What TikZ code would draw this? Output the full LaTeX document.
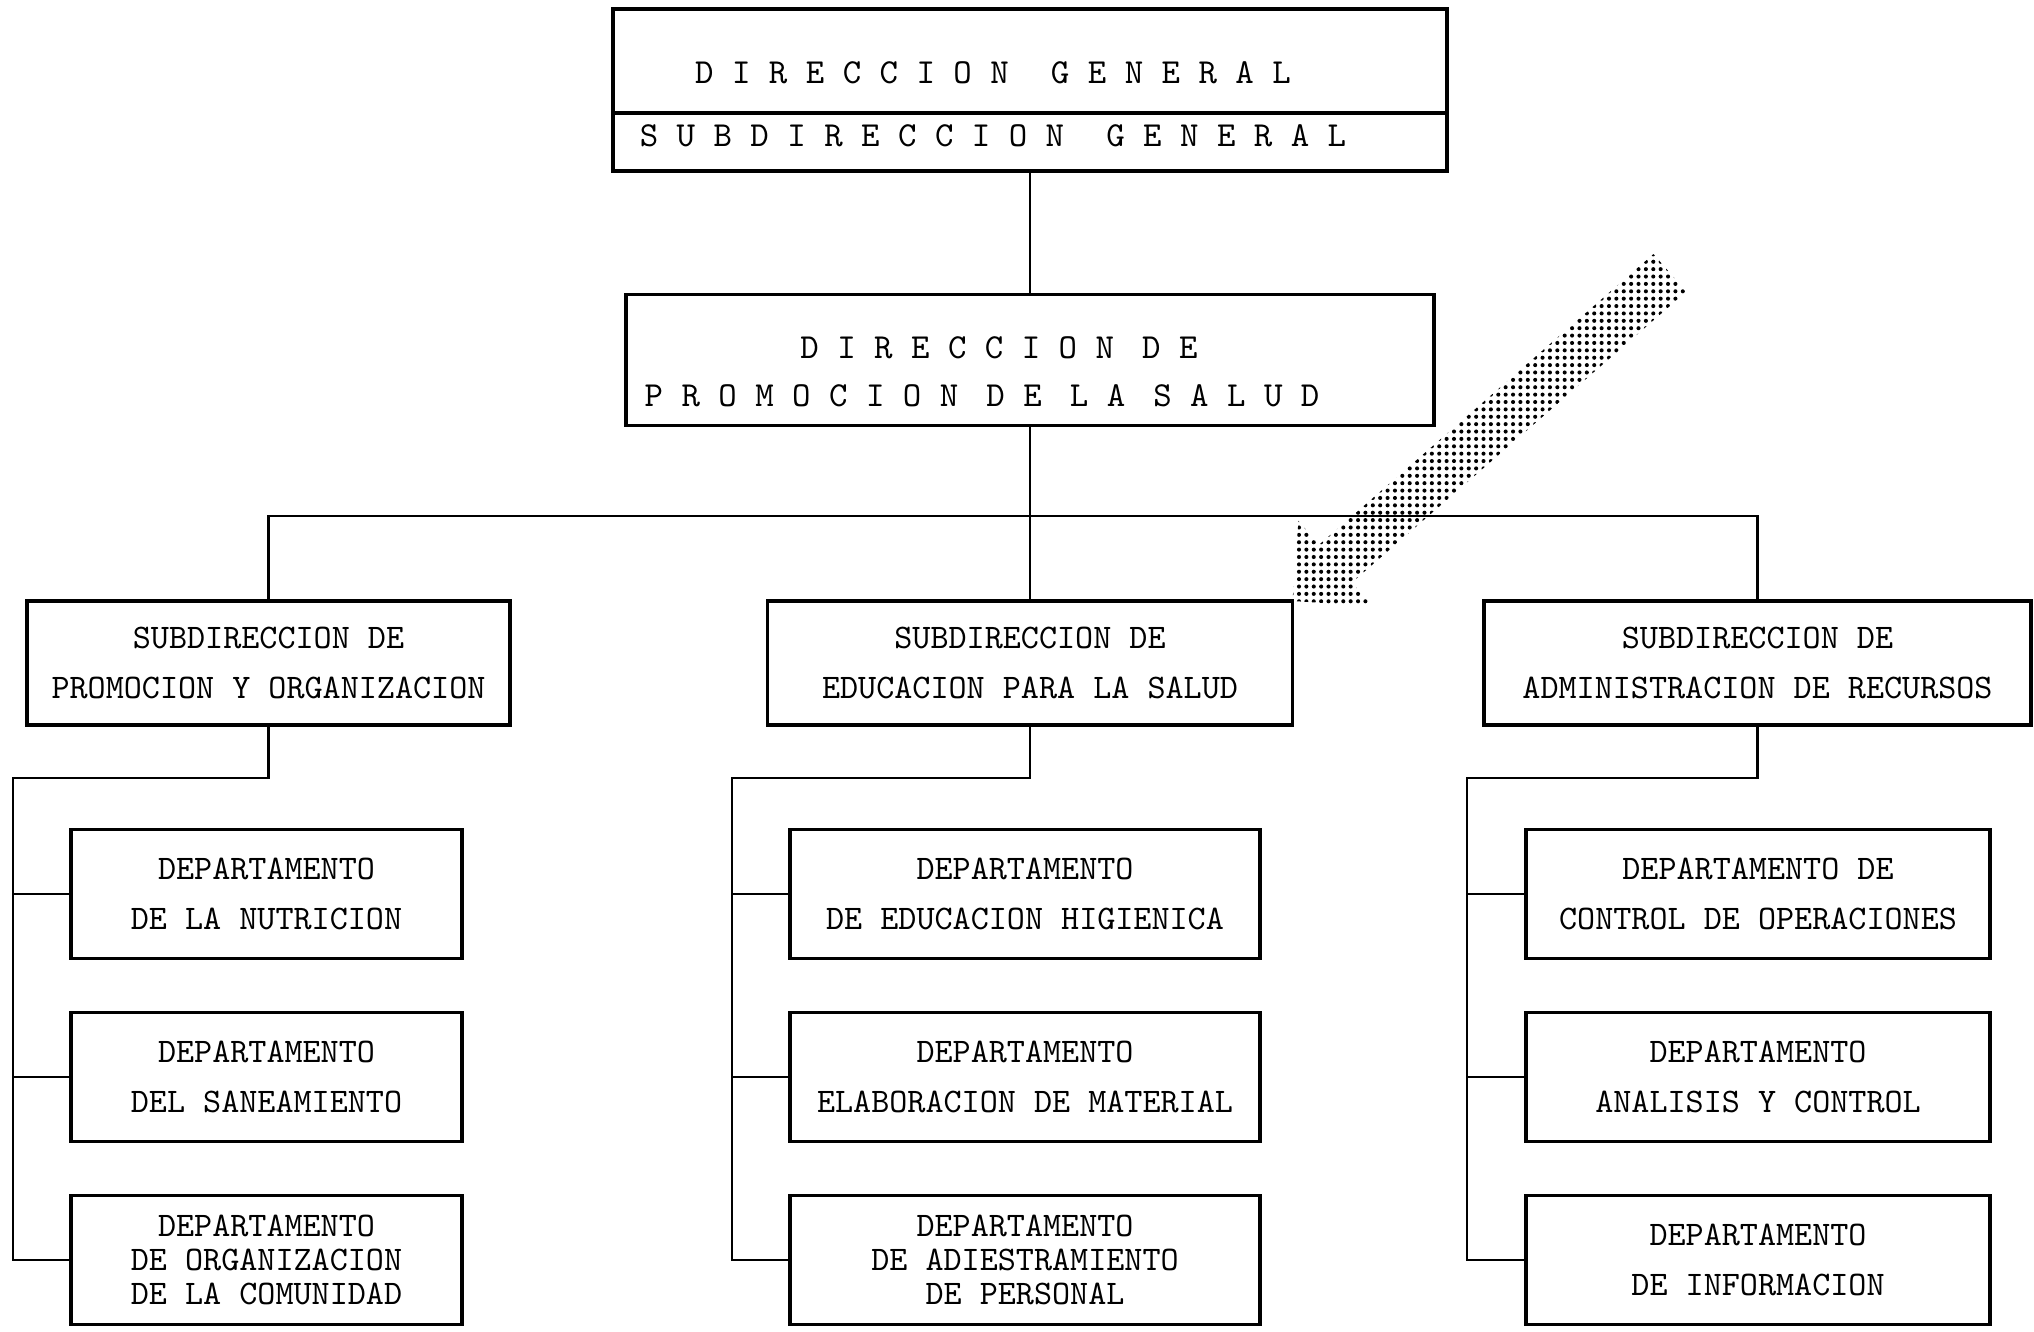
\documentclass[tikz,border=0pt]{standalone}
\usepackage{fontspec}
\usepackage{tikz}
\usetikzlibrary{positioning, patterns}
\pgfdeclarepatternformonly{halftone}{\pgfqpoint{-1pt}{-1pt}}{\pgfqpoint{1pt}{1pt}}{\pgfqpoint{2.1pt}{2.1pt}}%
  {\pgfpathcircle{\pgfqpoint{0pt}{0pt}}{.58pt}\pgfusepath{fill}}
\newcommand{\wg}{\hspace{1.2em}}
\tikzset{
  dir/.style  = {draw, line width=1.1pt, outer sep=0pt, minimum width=8.34cm,
                 font=\fontsize{10}{13.6}\selectfont\ttfamily},
  sub/.style  = {draw, line width=1.1pt, outer sep=0pt, align=center,
                 minimum height=1.24cm, font=\fontsize{9.8}{14}\selectfont\ttfamily},
  dep/.style  = {draw, line width=1.1pt, outer sep=0pt, align=center,
                 minimum height=1.29cm, font=\fontsize{9.8}{14}\selectfont\ttfamily},
  dep3/.style = {dep, font=\fontsize{9.8}{9.7}\selectfont\ttfamily},
  ln/.style   = {line width=0.6pt},
}
\begin{document}
\begin{tikzpicture}
  \useasboundingbox (0,0) rectangle (20.34,-13.32);
  \node[dir, minimum height=1.04cm, text height=.45cm] (dg) at (10.30,-0.61)
    {D I R E C C I O N\wg G E N E R A L\hspace*{.74cm}};
  \node[dir, minimum height=0.58cm, text depth=.12cm, below=0pt of dg] (sdg)
    {S U B D I R E C C I O N\wg G E N E R A L\hspace*{.74cm}};
  \node[dir, minimum width=8.08cm, minimum height=1.31cm, align=center, text height=.94cm] (dps) at (10.30,-3.60)
    {D I R E C C I O N\hspace{.8em}D E\hspace*{.62cm}\\
     P R O M O C I O N\hspace{.8em}D E\hspace{.8em}L A\hspace{.8em}S A L U D\hspace*{.96cm}};

  \node[sub, minimum width=4.83cm] (spo)  at (2.685,-6.63) {SUBDIRECCION DE\\PROMOCION Y ORGANIZACION};
  \node[sub, minimum width=5.25cm] (sedu) at (10.30,-6.63) {SUBDIRECCION DE\\EDUCACION PARA LA SALUD};
  \node[sub, minimum width=5.47cm] (sadm) at (17.575,-6.63) {SUBDIRECCION DE\\ADMINISTRACION DE RECURSOS};

  \node[dep, minimum width=3.91cm] (dnut) at (2.665,-8.94) {DEPARTAMENTO\\DE LA NUTRICION};
  \node[dep, minimum width=3.91cm, below=5.4mm of dnut] (dsan) {DEPARTAMENTO\\DEL SANEAMIENTO};
  \node[dep3, minimum width=3.91cm, below=5.4mm of dsan] (dorg) {DEPARTAMENTO\\DE ORGANIZACION\\DE LA COMUNIDAD};

  \node[dep, minimum width=4.70cm] (dhig) at (10.25,-8.94) {DEPARTAMENTO\\DE EDUCACION HIGIENICA};
  \node[dep, minimum width=4.70cm, below=5.4mm of dhig] (dmat) {DEPARTAMENTO\\ELABORACION DE MATERIAL};
  \node[dep3, minimum width=4.70cm, below=5.4mm of dmat] (dper) {DEPARTAMENTO\\DE ADIESTRAMIENTO\\DE PERSONAL};

  \node[dep, minimum width=4.64cm] (dope) at (17.58,-8.94) {DEPARTAMENTO DE\\CONTROL DE OPERACIONES};
  \node[dep, minimum width=4.64cm, below=5.4mm of dope] (dana) {DEPARTAMENTO\\ANALISIS Y CONTROL};
  \node[dep, minimum width=4.64cm, below=5.4mm of dana] (dinf) {DEPARTAMENTO\\DE INFORMACION};

  \coordinate (bus) at (10.30,-5.16);
  \coordinate (jl) at (0.13,-7.78); \coordinate (jm) at (7.32,-7.78); \coordinate (jr) at (14.67,-7.78);
  \draw[ln] (sdg.south) -- (dps.north); \draw[ln] (dps.south) -- (sedu.north);
  \draw[ln] (spo.north) |- (bus) -| (sadm.north);
  \draw[ln] (spo.south) |- (jl) |- (dorg.west);
  \draw[ln] (jl |- dnut) -- (dnut.west); \draw[ln] (jl |- dsan) -- (dsan.west);
  \draw[ln] (sedu.south) |- (jm) |- (dper.west);
  \draw[ln] (jm |- dhig) -- (dhig.west); \draw[ln] (jm |- dmat) -- (dmat.west);
  \draw[ln] (sadm.south) |- (jr) |- (dinf.west);
  \draw[ln] (jr |- dope) -- (dope.west); \draw[ln] (jr |- dana) -- (dana.west);

  \begin{scope}[shift={(sedu.north east)}, rotate=41]
    \fill[pattern=halftone] (0,0) -- (.57,.565) -- (.57,.25) -- (5,.25) -- (5,-.25)
      -- (.57,-.25) -- (.57,-.565) -- cycle;
  \end{scope}
\end{tikzpicture}
\end{document}
